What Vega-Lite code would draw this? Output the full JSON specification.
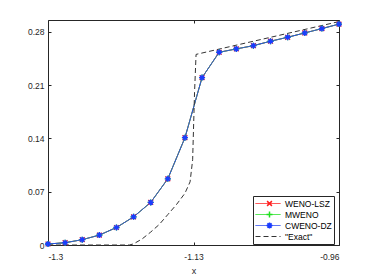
{
  "$schema": "https://vega.github.io/schema/vega-lite/v6.json",
  "autosize": {"type": "none"},
  "width": 291,
  "height": 225,
  "padding": {"left": 48, "top": 20, "right": 35, "bottom": 35},
  "background": "white",
  "config": {
    "font": "Liberation Sans",
    "view": {"stroke": "#262626", "strokeWidth": 1},
    "axis": {"grid": false, "domain": false, "labelColor": "#262626", "titleColor": "#262626", "tickColor": "#262626", "labelFont": "Liberation Sans", "titleFont": "Liberation Sans", "labelFontSize": 8.5, "titleFontSize": 9, "titleFontWeight": "normal"}
  },
  "data": {
    "values": [
      {"series": "WENO-LSZ", "x": -1.3, "y": 0.0013},
      {"series": "WENO-LSZ", "x": -1.28, "y": 0.003},
      {"series": "WENO-LSZ", "x": -1.26, "y": 0.007},
      {"series": "WENO-LSZ", "x": -1.24, "y": 0.013},
      {"series": "WENO-LSZ", "x": -1.22, "y": 0.023},
      {"series": "WENO-LSZ", "x": -1.2, "y": 0.037},
      {"series": "WENO-LSZ", "x": -1.18, "y": 0.056},
      {"series": "WENO-LSZ", "x": -1.16, "y": 0.087},
      {"series": "WENO-LSZ", "x": -1.14, "y": 0.141},
      {"series": "WENO-LSZ", "x": -1.12, "y": 0.22},
      {"series": "WENO-LSZ", "x": -1.1, "y": 0.2533},
      {"series": "WENO-LSZ", "x": -1.08, "y": 0.2577},
      {"series": "WENO-LSZ", "x": -1.06, "y": 0.262},
      {"series": "WENO-LSZ", "x": -1.04, "y": 0.2678},
      {"series": "WENO-LSZ", "x": -1.02, "y": 0.273},
      {"series": "WENO-LSZ", "x": -1.0, "y": 0.2787},
      {"series": "WENO-LSZ", "x": -0.98, "y": 0.2844},
      {"series": "WENO-LSZ", "x": -0.96, "y": 0.2903},
      {"series": "MWENO", "x": -1.3, "y": 0.0013},
      {"series": "MWENO", "x": -1.28, "y": 0.003},
      {"series": "MWENO", "x": -1.26, "y": 0.007},
      {"series": "MWENO", "x": -1.24, "y": 0.013},
      {"series": "MWENO", "x": -1.22, "y": 0.023},
      {"series": "MWENO", "x": -1.2, "y": 0.037},
      {"series": "MWENO", "x": -1.18, "y": 0.056},
      {"series": "MWENO", "x": -1.16, "y": 0.087},
      {"series": "MWENO", "x": -1.14, "y": 0.141},
      {"series": "MWENO", "x": -1.12, "y": 0.22},
      {"series": "MWENO", "x": -1.1, "y": 0.2533},
      {"series": "MWENO", "x": -1.08, "y": 0.2577},
      {"series": "MWENO", "x": -1.06, "y": 0.262},
      {"series": "MWENO", "x": -1.04, "y": 0.2678},
      {"series": "MWENO", "x": -1.02, "y": 0.273},
      {"series": "MWENO", "x": -1.0, "y": 0.2787},
      {"series": "MWENO", "x": -0.98, "y": 0.2844},
      {"series": "MWENO", "x": -0.96, "y": 0.2903},
      {"series": "CWENO-DZ", "x": -1.3, "y": 0.0013},
      {"series": "CWENO-DZ", "x": -1.28, "y": 0.003},
      {"series": "CWENO-DZ", "x": -1.26, "y": 0.007},
      {"series": "CWENO-DZ", "x": -1.24, "y": 0.013},
      {"series": "CWENO-DZ", "x": -1.22, "y": 0.023},
      {"series": "CWENO-DZ", "x": -1.2, "y": 0.037},
      {"series": "CWENO-DZ", "x": -1.18, "y": 0.056},
      {"series": "CWENO-DZ", "x": -1.16, "y": 0.087},
      {"series": "CWENO-DZ", "x": -1.14, "y": 0.141},
      {"series": "CWENO-DZ", "x": -1.12, "y": 0.22},
      {"series": "CWENO-DZ", "x": -1.1, "y": 0.2533},
      {"series": "CWENO-DZ", "x": -1.08, "y": 0.2577},
      {"series": "CWENO-DZ", "x": -1.06, "y": 0.262},
      {"series": "CWENO-DZ", "x": -1.04, "y": 0.2678},
      {"series": "CWENO-DZ", "x": -1.02, "y": 0.273},
      {"series": "CWENO-DZ", "x": -1.0, "y": 0.2787},
      {"series": "CWENO-DZ", "x": -0.98, "y": 0.2844},
      {"series": "CWENO-DZ", "x": -0.96, "y": 0.2903},
      {"series": "\"Exact\"", "x": -1.3, "y": 0},
      {"series": "\"Exact\"", "x": -1.205, "y": 0},
      {"series": "\"Exact\"", "x": -1.2, "y": 0.0015},
      {"series": "\"Exact\"", "x": -1.19, "y": 0.008},
      {"series": "\"Exact\"", "x": -1.18, "y": 0.017},
      {"series": "\"Exact\"", "x": -1.17, "y": 0.027},
      {"series": "\"Exact\"", "x": -1.16, "y": 0.04},
      {"series": "\"Exact\"", "x": -1.15, "y": 0.053},
      {"series": "\"Exact\"", "x": -1.14, "y": 0.068},
      {"series": "\"Exact\"", "x": -1.134, "y": 0.083},
      {"series": "\"Exact\"", "x": -1.131, "y": 0.112},
      {"series": "\"Exact\"", "x": -1.1298, "y": 0.16},
      {"series": "\"Exact\"", "x": -1.1288, "y": 0.2},
      {"series": "\"Exact\"", "x": -1.127, "y": 0.2505},
      {"series": "\"Exact\"", "x": -0.96, "y": 0.2936}
    ]
  },
  "layer": [
    {
      "mark": {"type": "line", "strokeWidth": 1},
      "encoding": {
        "x": {"field": "x", "type": "quantitative", "scale": {"domain": [-1.3, -0.96], "nice": false, "zero": false}, "axis": {"orient": "bottom", "title": "x", "values": [-1.3, -1.13, -0.96], "labelExpr": "'' + datum.value", "tickSize": -3, "labelPadding": 10, "titlePadding": 6}},
        "y": {"field": "y", "type": "quantitative", "scale": {"domain": [0, 0.2957], "nice": false, "zero": false}, "axis": {"orient": "left", "title": null, "values": [0, 0.07, 0.14, 0.21, 0.28], "labelExpr": "'' + datum.value", "tickSize": -3, "labelPadding": 7}},
        "color": {"field": "series", "type": "nominal", "sort": null, "scale": {"domain": ["WENO-LSZ", "MWENO", "CWENO-DZ", "\"Exact\""], "range": ["#ff2020", "#20e020", "#2a48f0", "#333333"]},
          "legend": {"orient": "none", "legendX": 205, "legendY": 176, "title": null, "symbolType": "stroke", "symbolSize": 625, "symbolStrokeWidth": 1, "clipHeight": 11, "rowPadding": 0, "padding": 2, "labelFontSize": 8.5, "labelOffset": 4, "labelColor": "#000000", "labelFont": "Liberation Sans", "strokeColor": "#262626", "fillColor": "white"}},
        "strokeDash": {"field": "series", "type": "nominal", "sort": null, "scale": {"domain": ["WENO-LSZ", "MWENO", "CWENO-DZ", "\"Exact\""], "range": [[1, 0], [1, 0], [1, 0], [5, 3]]},
          "legend": {"orient": "none", "legendX": 205, "legendY": 176, "title": null, "symbolType": "stroke", "symbolSize": 625, "symbolStrokeWidth": 1, "clipHeight": 11, "rowPadding": 0, "padding": 2, "labelFontSize": 8.5, "labelOffset": 4, "labelColor": "#000000", "labelFont": "Liberation Sans", "strokeColor": "#262626", "fillColor": "white"}}
      }
    },
    {
      "transform": [{"filter": "datum.series != '\"Exact\"'"}],
      "mark": {"type": "point", "filled": false, "strokeWidth": 1.3, "size": 36, "opacity": 1},
      "encoding": {
        "x": {"field": "x", "type": "quantitative", "axis": {"orient": "top", "title": null, "values": [-1.3, -1.13, -0.96], "labels": false, "tickSize": -3}},
        "y": {"field": "y", "type": "quantitative", "axis": {"orient": "right", "title": null, "values": [0, 0.07, 0.14, 0.21, 0.28], "labels": false, "tickSize": -3}},
        "shape": {"field": "series", "type": "nominal", "sort": null, "scale": {"domain": ["WENO-LSZ", "MWENO", "CWENO-DZ"], "range": ["M-0.8,-0.8L0.8,0.8M-0.8,0.8L0.8,-0.8", "M-1,0H1M0,-1V1", "M-1,0H1M0,-1V1M-0.7,-0.7L0.7,0.7M-0.7,0.7L0.7,-0.7"]},
          "legend": {"orient": "none", "legendX": 214.5, "legendY": 176, "title": null, "symbolSize": 36, "clipHeight": 11, "rowPadding": 0, "padding": 2, "labelExpr": "''", "symbolFillColor": "transparent"}},
        "stroke": {"field": "series", "type": "nominal", "sort": null, "scale": {"domain": ["WENO-LSZ", "MWENO", "CWENO-DZ"], "range": ["#ff2020", "#20e020", "#1a3cff"]},
          "legend": {"orient": "none", "legendX": 214.5, "legendY": 176, "title": null, "symbolSize": 36, "clipHeight": 11, "rowPadding": 0, "padding": 2, "labelExpr": "''", "symbolFillColor": "transparent"}}
      }
    }
  ]
}
